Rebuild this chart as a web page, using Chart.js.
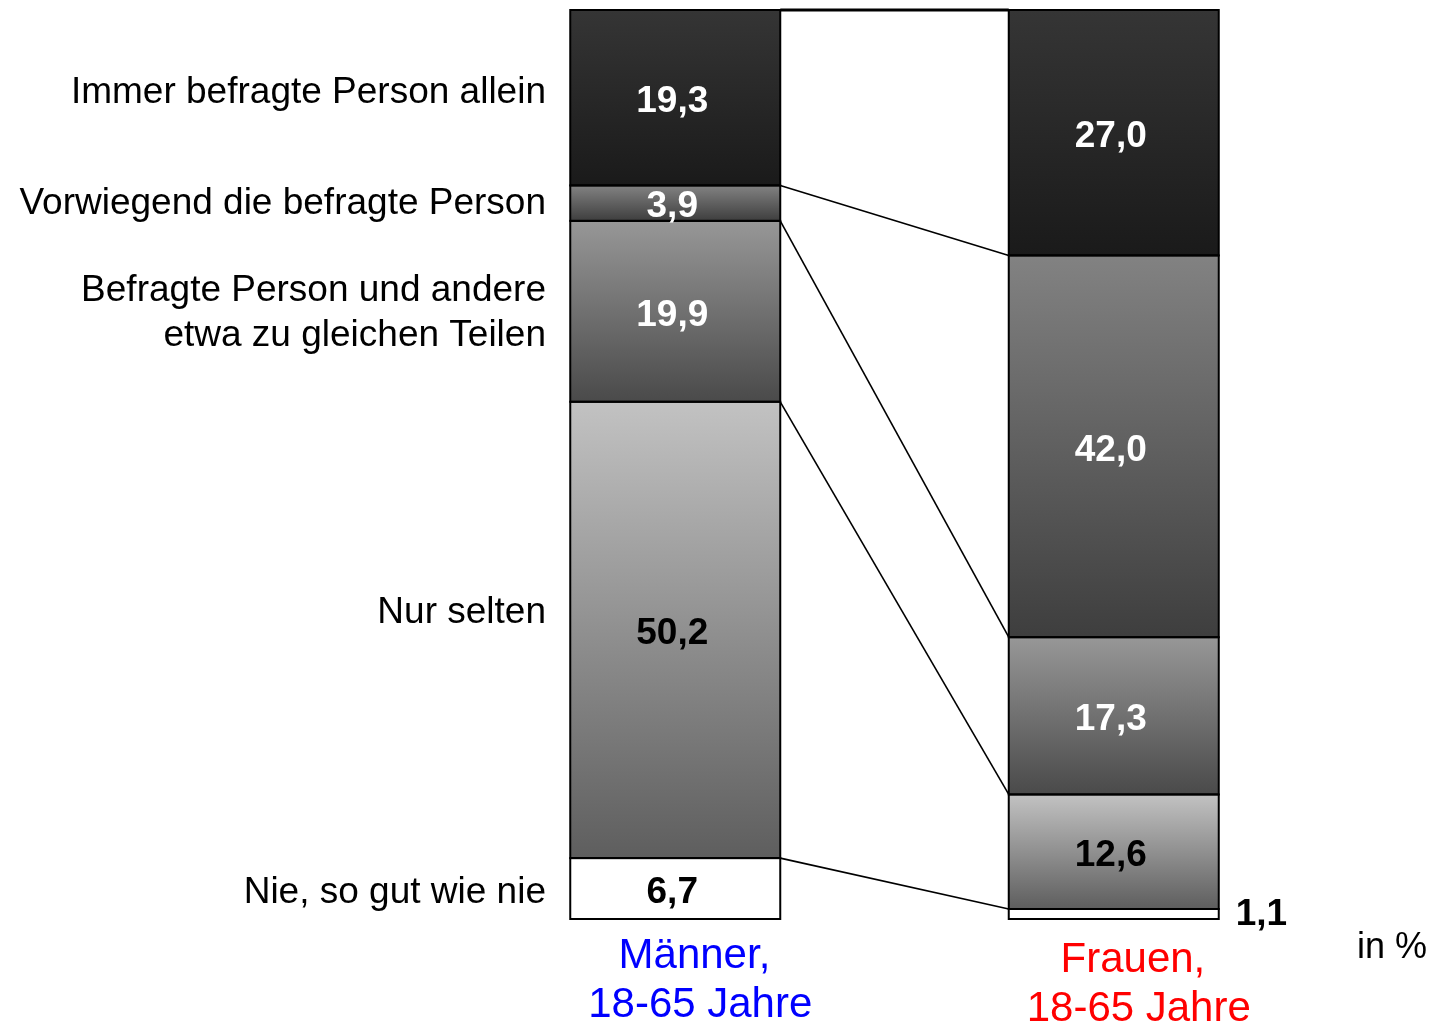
<!DOCTYPE html>
<html>
<head>
<meta charset="utf-8">
<script src="https://cdn.jsdelivr.net/npm/chart.js@4/dist/chart.umd.min.js"></script>
<style>
  html, body { margin: 0; padding: 0; background: #fff; }
  #wrap { width: 1438px; height: 1026px; position: relative; }
</style>
</head>
<body>
<div id="wrap"><canvas id="chart"></canvas></div>
<script>
// categories (one bar each)
const categories = [["Männer, ", "18-65 Jahre"], ["Frauen, ", "18-65 Jahre"]];
const categoryColors = ["#0000ff", "#ff0000"];

// series, from the bottom of the stack to the top
const seriesNames = [
    ["Nie, so gut wie nie"],
    ["Nur selten"],
    ["Befragte Person und andere", "etwa zu gleichen Teilen"],
    ["Vorwiegend die befragte Person"],
    ["Immer befragte Person allein"]
];
const nieValues = [6.7, 1.1];
const seltenValues = [50.2, 12.6];
const gleichValues = [19.9, 17.3];
const vorwiegendValues = [3.9, 42.0];
const immerValues = [19.3, 27.0];
const seriesValues = [nieValues, seltenValues, gleichValues, vorwiegendValues, immerValues];

// styling
const gradientStops = [
    ["#ffffff", "#ffffff"],
    ["#c2c2c2", "#5e5e5e"],
    ["#979797", "#4a4a4a"],
    ["#828282", "#3e3e3e"],
    ["#353535", "#1a1a1a"]
];
const valueColors = ["#000", "#000", "#fff", "#fff", "#fff"];
const nameShift = [3, -18, 1, 0, -6];
const FONT = '"Liberation Sans", Arial, sans-serif';

function fmt(v) {
    return v.toFixed(1).replace(".", ",");
}

function segmentFill(ctx, ds) {
    const chart = ctx.chart;
    if (!chart.chartArea || ctx.type !== "data") return gradientStops[ds][0];
    const y = chart.scales.y;
    let start = 0;
    for (let i = 0; i < ds; i++) start += seriesValues[i][ctx.dataIndex];
    const end = start + seriesValues[ds][ctx.dataIndex];
    const g = chart.ctx.createLinearGradient(0, y.getPixelForValue(end), 0, y.getPixelForValue(start));
    g.addColorStop(0, gradientStops[ds][0]);
    g.addColorStop(1, gradientStops[ds][1]);
    return g;
}

const datasets = seriesValues.map((vals, i) => ({
    label: seriesNames[i].join(" "),
    data: vals,
    backgroundColor: ctx => segmentFill(ctx, i),
    borderWidth: 0,
    inflateAmount: 0,
    categoryPercentage: 1,
    barPercentage: 210 / 438.5
}));

const textPlugin = {
    id: "texts",
    afterDatasetsDraw(chart) {
        const c = chart.ctx;
        const area = chart.chartArea;
        c.save();

        // segment outlines
        c.strokeStyle = "#000";
        c.lineWidth = 2;
        seriesValues.forEach((vals, i) => {
            chart.getDatasetMeta(i).data.forEach(el => {
                c.strokeRect(el.x - el.width / 2, el.y, el.width, el.base - el.y);
            });
        });

        // connecting lines between the two bars
        seriesValues.forEach((vals, i) => {
            const meta = chart.getDatasetMeta(i);
            const a = meta.data[0], b = meta.data[1];
            c.lineWidth = i === seriesValues.length - 1 ? 3 : 1.6;
            c.beginPath();
            c.moveTo(a.x + a.width / 2, a.y);
            c.lineTo(b.x - b.width / 2, b.y);
            c.stroke();
        });

        // values inside the segments
        c.font = "bold 37px " + FONT;
        c.textBaseline = "middle";
        seriesValues.forEach((vals, i) => {
            const meta = chart.getDatasetMeta(i);
            meta.data.forEach((el, j) => {
                c.fillStyle = valueColors[i];
                const h = Math.abs(el.base - el.y);
                if (h < 25) {
                    c.textAlign = "left";
                    c.fillStyle = "#000";
                    c.fillText(fmt(vals[j]), el.x + el.width / 2 + 17, (el.y + el.base) / 2 + 1);
                } else {
                    c.textAlign = "center";
                    c.fillText(fmt(vals[j]), el.x - 3, (el.y + el.base) / 2 + 4);
                }
            });
        });

        // series names to the left of the first bar
        c.font = "37px " + FONT;
        c.fillStyle = "#000";
        c.textAlign = "right";
        c.textBaseline = "middle";
        seriesNames.forEach((lines, i) => {
            const el = chart.getDatasetMeta(i).data[0];
            const mid = (el.y + el.base) / 2 + nameShift[i] + 1;
            const lh = 45;
            lines.forEach((ln, k) => {
                c.fillText(ln, area.left + 90, mid + (k - (lines.length - 1) / 2) * lh);
            });
        });

        // category names below the bars
        c.font = "42px " + FONT;
        c.textAlign = "center";
        c.textBaseline = "alphabetic";
        categories.forEach((lines, j) => {
            const el = chart.getDatasetMeta(0).data[j];
            c.fillStyle = categoryColors[j];
            lines.forEach((ln, k) => {
                c.fillText(ln, el.x + 25, area.bottom + 49 + j * 4 + k * 49);
            });
        });

        // unit
        c.font = "36px " + FONT;
        c.fillStyle = "#000";
        c.textAlign = "left";
        c.fillText("in %", 1357, area.bottom + 39);
        c.restore();
    }
};

new Chart(document.getElementById("chart"), {
    type: "bar",
    data: {
        labels: categories.map(l => l.join("")),
        datasets: datasets
    },
    options: {
        responsive: true,
        maintainAspectRatio: false,
        animation: false,
        layout: {
            padding: { left: 456, right: 105, top: 10, bottom: 107 }
        },
        scales: {
            x: { stacked: true, display: false },
            y: { stacked: true, display: false, min: 0, max: 100 }
        },
        plugins: {
            legend: { display: false },
            tooltip: { enabled: false }
        }
    },
    plugins: [textPlugin]
});
</script>
</body>
</html>
